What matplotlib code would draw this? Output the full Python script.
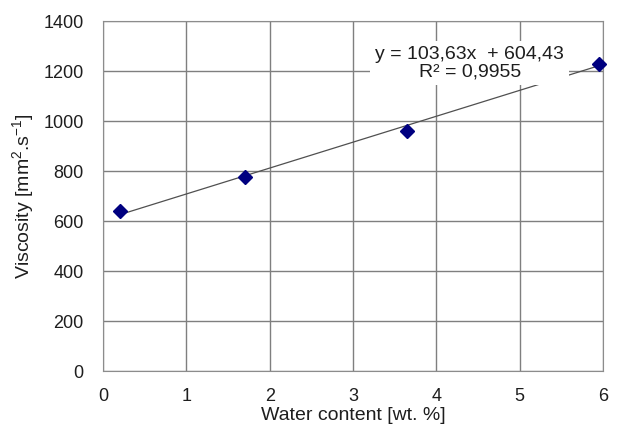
import numpy as np
import matplotlib
matplotlib.use('Agg')
import matplotlib.pyplot as plt

plt.rcParams.update({
    'font.family': 'Liberation Sans',
    'font.size': 13,
    'mathtext.fontset': 'custom',
    'mathtext.rm': 'Liberation Sans',
    'mathtext.it': 'Liberation Sans:italic',
})

# Measured data
water = [0.2, 1.7, 3.65, 5.95]
viscosity = [640, 775, 960, 1230]

# Linear trend as printed on the chart
slope = 103.63
intercept = 604.43
eq_text = 'y = 103,63x  + 604,43\nR² = 0,9955'

x_ticks = [0, 1, 2, 3, 4, 5, 6]
y_ticks = [0, 200, 400, 600, 800, 1000, 1200, 1400]

fig = plt.figure(figsize=(6.2, 4.26), dpi=100)
ax = fig.add_axes([0.1661, 0.1291, 0.8065, 0.8216])

xt = np.array([water[0], water[-1]])
ax.plot(xt, slope * xt + intercept, color='#505050', lw=0.9, zorder=2)
ax.plot(water, viscosity, linestyle='none', marker='D', markersize=7,
        color='#000080', zorder=4, clip_on=False)

ax.set_xlim(0, 6)
ax.set_ylim(0, 1400)
ax.set_xticks(x_ticks)
ax.set_yticks(y_ticks)
ax.grid(True, color='#7f7f7f', lw=1)
ax.set_axisbelow(True)
for s in ax.spines.values():
    s.set_color('#8c8c8c')
ax.tick_params(length=0, colors='#1e1e1e')
ax.tick_params(axis='y', pad=14)
ax.tick_params(axis='x', pad=12.5)

ax.set_xlabel('Water content [wt. %]', fontsize=14, labelpad=1, color='#1e1e1e')
ax.set_ylabel(r'Viscosity [mm$^{2}$.s$^{-1}$]', fontsize=14, color='#1e1e1e')
ax.yaxis.set_label_coords(-0.134, 0.5)

ax.text(4.4, 1232, eq_text, ha='center', va='center', fontsize=14,
        color='#1e1e1e', linespacing=1.0, zorder=3,
        bbox=dict(boxstyle='square,pad=0.25', fc='white', ec='none'))

fig.savefig('out.png', dpi=100)
